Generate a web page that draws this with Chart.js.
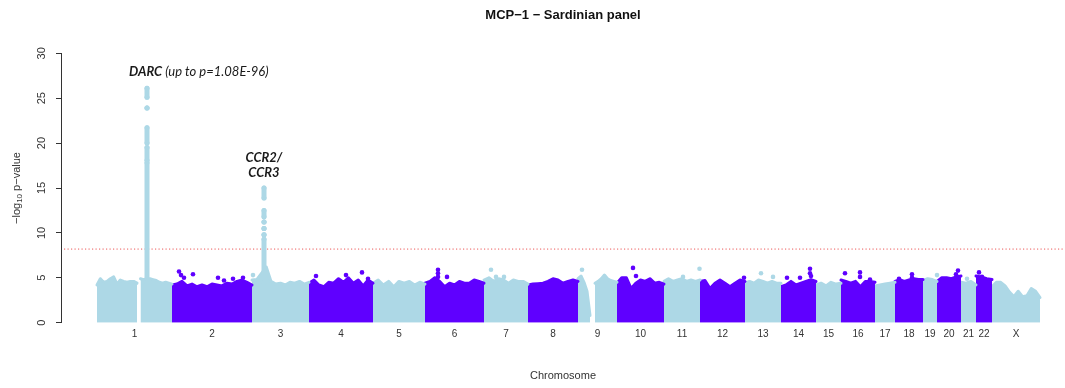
<!DOCTYPE html>
<html><head><meta charset="utf-8">
<script src="https://cdn.jsdelivr.net/npm/chart.js@4.4.1/dist/chart.umd.min.js"></script>
<style>html,body{margin:0;padding:0;background:#fff;} #wrap{width:1065px;height:388px;}</style>
</head><body><div id="wrap"><canvas id="c" width="1065" height="388"></canvas></div>
<script>
// ---------------- data ----------------
const chartTitle = 'MCP\u22121 \u2212 Sardinian panel';
const chromosomes = ['1','2','3','4','5','6','7','8','9','10','11','12','13','14','15','16','17','18','19','20','21','22','X'];
// span of each chromosome on the x axis (SNP index, thousands)
const chrSizes = [75,80,57,64,52,59,44,50,39,47,36,45,36,35,25,34,20,28,14,24,15,16,48];
// regions without SNPs (centromeres): [chromosome index, from, to]
const snpGaps = [[0,40,43.5],[8,12,17]];
// upper envelope of -log10 p inside each chromosome (evenly spaced; null marks the SNP gap)
const chrTops = [
  [4.2,4.9,4.5,4.6,4.9,5.1,4.3,4.75,4.6,4.5,4.6,4.6,4.4,null,4.9,4.8,4.9,4.9,4.8,4.7,4.5,4.4,4.5,4.4,4.3],
  [4.2,4.3,4.6,4.1,4.3,4.0,4.2,4.0,4.3,4.2,4.1,4.4,4.3,4.6,4.75,4.5,4.2],
  [4.75,4.8,5.5,6.2,4.6,4.3,4.4,4.2,4.5,4.4,4.6,4.3,4.5],
  [4.4,4.75,4.2,4.0,4.5,4.4,4.9,4.5,5.0,4.4,4.75,4.1,4.75,4.4],
  [4.4,4.75,4.2,4.6,4.0,4.6,4.4,4.6,4.2,4.5,4.3],
  [4.4,4.6,5.0,4.6,4.0,4.4,4.2,4.6,4.4,4.4,4.75,4.6,4.4],
  [4.75,5.0,4.6,4.9,4.75,4.4,4.75,4.6,4.6,4.3],
  [4.2,4.3,4.35,4.4,4.6,4.9,4.75,4.4,4.6,4.75,4.6],
  [4.9,5.2,4.5,3.5,0.8,null,4.4,4.6,4.9,5.3,4.9,4.7,4.6,4.5],
  [4.4,5.0,5.0,3.8,4.4,4.75,4.6,4.9,4.4,4.5,4.3],
  [4.6,4.9,4.6,4.75,4.9,4.6,4.75,4.6,4.75],
  [4.6,4.7,3.8,4.4,4.75,4.4,4.0,4.4,4.75,4.6],
  [4.4,4.6,4.4,4.75,4.6,4.4,4.6,4.4,4.4],
  [4.0,4.2,4.6,4.2,4.4,4.6,4.8,4.6],
  [4.2,4.4,4.1,4.5,4.3,4.4],
  [4.75,4.6,4.4,4.6,4.0,4.6,4.6,4.5],
  [4.1,4.2,4.3,4.4,4.5],
  [4.6,4.8,4.6,4.75,4.9,4.8,4.8],
  [4.7,4.9,4.8,4.6],
  [4.6,5.0,5.0,4.9,5.1,5.2],
  [4.5,4.4,4.6,4.2],
  [5.2,5.1,4.9,4.8],
  [4.0,4.5,4.5,4.1,3.4,2.9,3.5,2.9,3.0,3.8,3.5,2.8]
];
// isolated SNPs above the bulk: [chromosome index, position in chromosome, -log10 p]
const outlierSnps = [
  [1,7,5.7],[1,9,5.3],[1,12,5.0],[1,21,5.4],[1,46,5.0],[1,52,4.7],[1,61,4.9],[1,71,5.0],
  [2,1,5.3],
  [3,7,5.2],[3,37,5.3],[3,53,5.6],[3,59,4.9],
  [5,13,5.9],[5,13,5.5],[5,13,5.1],[5,22,5.1],
  [6,7,5.9],[6,12,5.1],[6,20,5.1],
  [8,4,5.9],
  [9,16,6.1],[9,19,5.2],
  [10,19,5.1],[10,35.5,6.0],
  [11,44,5.0],
  [12,16,5.5],[12,28,5.1],
  [13,6,5.0],[13,19,5.0],[13,29,6.0],[13,29,5.5],[13,30,5.2],
  [15,4,5.5],[15,19,5.6],[15,19,5.1],[15,29,4.8],
  [17,4,4.9],[17,17,5.4],[17,17,5.0],
  [18,14,5.3],
  [19,21,5.8],[19,19,5.4],
  [20,6,4.9],
  [21,3,5.6],[21,6,5.1]
];
// associated loci: runs of consecutive SNP values [from, to]
const darcChr = 0, darcPos = 50;
const darcRuns = [[4.5,17.8],[18.1,19.5],[20.0,21.7],[23.9,23.9],[25.1,26.1]];
const ccrChr = 2, ccrPos = 12;
const ccrRuns = [[4.5,9.3],[9.8,9.8],[10.5,10.5],[11.2,11.2],[11.8,12.5],[13.9,15.0]];
const threshold = 8.2;
const yTicks = [0,5,10,15,20,25,30];
const colors = ['#add8e6', '#5f00ff'];

// ---------------- build ----------------
const chrStart = [];
let acc = 0;
chrSizes.forEach(s => { chrStart.push(acc); acc += s; });
const chrMid = chrSizes.map((s,i) => chrStart[i] + s/2);

function spread(vals, from, to) {
  const n = vals.length;
  return vals.map((v,i) => ({x: n > 1 ? from + i*(to-from)/(n-1) : from, y: v}));
}
const datasets = [];
chrTops.forEach((tops, c) => {
  const col = colors[c % 2];
  const s0 = chrStart[c], size = chrSizes[c];
  const gap = snpGaps.find(g => g[0] === c);
  let data;
  if (gap) {
    const k = tops.indexOf(null);
    data = spread(tops.slice(0,k), s0, s0 + gap[1])
      .concat([{x: s0 + (gap[1]+gap[2])/2, y: null}])
      .concat(spread(tops.slice(k+1), s0 + gap[2], s0 + size));
  } else {
    data = spread(tops, s0, s0 + size);
  }
  datasets.push({
    type:'scatter', showLine:true, order:3, data,
    borderColor: col, backgroundColor: col, fill: 'origin',
    borderWidth: 3, borderJoinStyle:'round', borderCapStyle:'round',
    pointRadius: 0, spanGaps:false, clip:false
  });
});
const ptsByColor = [[],[]];
outlierSnps.forEach(([c,p,v]) => ptsByColor[c % 2].push({x: chrStart[c] + p, y: v}));
ptsByColor.forEach((pts, k) => datasets.push({
  type:'scatter', order:1, data: pts, backgroundColor: colors[k], borderWidth:0, pointRadius:2.3, clip:false
}));
function addRuns(runs, c, pos) {
  runs.forEach(([a,b]) => datasets.push({
    type:'scatter', showLine:true, order:2,
    data: [{x: chrStart[c] + pos, y: a}, {x: chrStart[c] + pos, y: b}],
    borderColor: colors[c % 2], backgroundColor: colors[c % 2], borderWidth: 5,
    borderCapStyle:'round', pointRadius: 2.5, pointBorderWidth: 0, clip:false
  }));
}
addRuns(darcRuns, darcChr, darcPos);
addRuns(ccrRuns, ccrChr, ccrPos);

const extras = {
  id:'extras',
  beforeDatasetsDraw(chart) {
    const {ctx, chartArea, scales:{y}} = chart;
    const py = y.getPixelForValue(threshold);
    ctx.save();
    ctx.strokeStyle = 'rgba(235,70,70,0.9)';
    ctx.lineWidth = 1;
    ctx.setLineDash([1.2,2.3]);
    ctx.beginPath(); ctx.moveTo(chartArea.left + 3, py); ctx.lineTo(chartArea.right, py); ctx.stroke();
    ctx.restore();
  },
  afterDraw(chart) {
    const {ctx, scales:{x, y}} = chart;
    ctx.save();
    ctx.fillStyle = '#333';
    ctx.textBaseline = 'middle';
    ctx.textAlign = 'center';
    ctx.font = '11px "Liberation Sans", Arial, sans-serif';
    yTicks.forEach(v => {
      ctx.save();
      ctx.translate(41.5, y.getPixelForValue(v));
      ctx.rotate(-Math.PI/2);
      ctx.fillText(String(v), 0, 0);
      ctx.restore();
    });
    // y axis title with subscript
    const main = '11px "Liberation Sans", Arial, sans-serif';
    const sub = '8px "Liberation Sans", Arial, sans-serif';
    const parts = [['\u2212log', main, 0], ['10', sub, 3], [' p\u2212value', main, 0]];
    let total = 0;
    parts.forEach(p => { ctx.font = p[1]; total += ctx.measureText(p[0]).width; });
    ctx.save();
    ctx.translate(17, (y.getPixelForValue(0) + y.getPixelForValue(30))/2);
    ctx.rotate(-Math.PI/2);
    ctx.textAlign = 'left';
    let cx = -total/2;
    parts.forEach(p => { ctx.font = p[1]; ctx.fillText(p[0], cx, p[2]); cx += ctx.measureText(p[0]).width; });
    ctx.restore();
    // locus annotations
    ctx.fillStyle = '#1a1a1a';
    ctx.textAlign = 'left';
    const dx = x.getPixelForValue(chrStart[darcChr] + darcPos) - 18;
    const dy = y.getPixelForValue(27.9);
    ctx.font = 'italic bold 13px Lato, "Open Sans", sans-serif';
    ctx.fillText('DARC', dx, dy);
    const w = ctx.measureText('DARC').width;
    ctx.font = 'italic 13px Lato, "Open Sans", sans-serif';
    ctx.fillText(' (up to p=1.08E-96)', dx + w, dy);
    ctx.textAlign = 'center';
    ctx.font = 'italic bold 13px Lato, "Open Sans", sans-serif';
    const cxp = x.getPixelForValue(chrStart[ccrChr] + ccrPos);
    ctx.fillText('CCR2/', cxp, y.getPixelForValue(18.4));
    ctx.fillText('CCR3', cxp, y.getPixelForValue(16.7));
    ctx.restore();
  }
};

new Chart(document.getElementById('c'), {
  type: 'scatter',
  data: { datasets },
  options: {
    responsive:false, animation:false, devicePixelRatio:1,
    layout:{ autoPadding:false, padding:{left:0,right:0,top:0,bottom:0} },
    plugins:{
      legend:{display:false}, tooltip:{enabled:false},
      title:{ display:true, text: chartTitle, fullSize:false, color:'#111',
        font:{family:'"Liberation Sans", Arial, sans-serif', size:13, weight:'bold'},
        padding:{top:7.5, bottom:30.2} }
    },
    scales:{
      x:{ type:'linear', min:-36, max:968,
        afterBuildTicks(s){ s.ticks = chrMid.map(v => ({value:v})); },
        afterFit(s){ s.height = 65.3; },
        ticks:{ autoSkip:false, maxRotation:0, minRotation:0, padding:6, color:'#333',
          font:{family:'"Liberation Sans", Arial, sans-serif', size:10},
          callback:(v,i) => chromosomes[i] },
        grid:{ display:false, drawTicks:false }, border:{ display:false },
        title:{ display:true, text:'Chromosome', color:'#333',
          font:{family:'"Liberation Sans", Arial, sans-serif', size:11}, padding:{top:0,bottom:5.5} }
      },
      y:{ min:0, max:30,
        afterBuildTicks(s){ s.ticks = yTicks.map(v => ({value:v})); },
        afterFit(s){ s.width = 61; },
        ticks:{ display:false },
        grid:{ drawOnChartArea:false, drawTicks:true, tickLength:5, color:'#333' },
        border:{ display:true, color:'#333' }
      }
    }
  },
  plugins:[extras]
});
</script></body></html>
